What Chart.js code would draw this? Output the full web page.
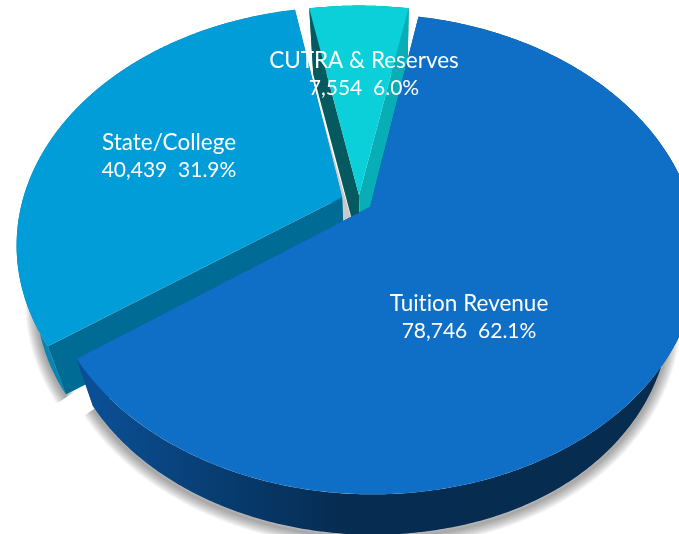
<!DOCTYPE html>
<html><head><meta charset="utf-8">
<style>html,body{margin:0;padding:0;background:#fff;overflow:hidden}canvas{display:block}</style>
<script src="https://cdn.jsdelivr.net/npm/chart.js@4"></script>
</head><body>
<canvas id="c" width="679" height="534"></canvas>
<script>
const categories = ["State/College", "CUTRA & Reserves", "Tuition Revenue"];
const values = [40439, 7554, 78746];
const percents = [31.9, 6.0, 62.1];
const faceColors = ["#009dd9", "#0bd0d9", "#0f6fc6"];
const startWallColors = ["#006c96", "#08aeb5", "#0a4f96"];
const endWallColors = ["#006c96", "#055a60", "#0a4f96"];
const explode = [0.057, 0.03, 0.041];
const labelSpots = [[169, 143], [364, 61], [469, 304]];

// projection of the flat pie to a tilted disc
const view = {sx: 359, sy: 202, a: 320, b: 229, k: 0.195, vx: 385, vy: 1250, depth: 0.0535, squeeze: 1.8e-4};

function project(u, v, t) {
  const w = 1 - view.k * v;
  let X = view.sx + view.a * u / w, Y = view.sy + view.b * v / w;
  const over = Math.max(0, X - 450);
  X += ((view.vx - X) * view.depth - view.squeeze * over * over) * t;
  Y += (view.vy - Y) * view.depth * t;
  return [X, Y];
}

const tiltedPie = {
  id: 'tiltedPie',
  beforeDatasetsDraw(chart) {
    const ctx = chart.ctx;
    const arcs = chart.getDatasetMeta(0).data;
    const ox = arcs[0].x, oy = arcs[0].y, R = arcs[0].outerRadius;
    const oLine = ctx.lineTo.bind(ctx), oMove = ctx.moveTo.bind(ctx);

    const rimPoint = (el, i, ang, t) => {
      const h = (el.startAngle + el.endAngle) / 2;
      return project(explode[i] * Math.cos(h) + Math.cos(ang), explode[i] * Math.sin(h) + Math.sin(ang), t);
    };
    const apexPoint = (el, i, t) => {
      const h = (el.startAngle + el.endAngle) / 2;
      return project(explode[i] * Math.cos(h), explode[i] * Math.sin(h), t);
    };
    const trace = (pts) => {
      ctx.beginPath();
      pts.forEach((p, n) => n ? ctx.lineTo(p[0], p[1]) : ctx.moveTo(p[0], p[1]));
      ctx.closePath();
    };
    const poly = (pts, fill) => {
      trace(pts);
      ctx.fillStyle = fill;
      ctx.fill();
    };
    const rimPoly = (el, i) => {
      const top = [], bottom = [];
      const n = Math.ceil((el.endAngle - el.startAngle) / 0.01);
      for (let j = 0; j <= n; j++) {
        const ang = el.startAngle + (el.endAngle - el.startAngle) * j / n;
        top.push(rimPoint(el, i, ang, 0));
        bottom.unshift(rimPoint(el, i, ang, 1));
      }
      return top.concat(bottom);
    };
    const cutPoly = (el, i, ang) => [apexPoint(el, i, 0), rimPoint(el, i, ang, 0), rimPoint(el, i, ang, 1), apexPoint(el, i, 1)];

    const rimFill = (i) => {
      const g = ctx.createLinearGradient(0, 0, chart.width, 0);
      if (i === 2) {
        g.addColorStop(0.12, '#0b5198'); g.addColorStop(0.3, '#083f75');
        g.addColorStop(0.5, '#062c52'); g.addColorStop(1, '#062c4e');
      } else if (i === 0) {
        g.addColorStop(0, '#0a86b2'); g.addColorStop(1, '#0a7aa4');
      } else {
        g.addColorStop(0, '#08808a'); g.addColorStop(1, '#08808a');
      }
      return g;
    };

    // soft shadow under the lower edge of the solid, built from widening translucent strokes
    ctx.save();
    ctx.translate(0, 3);
    ctx.lineJoin = 'round';
    for (let w = 22; w >= 2; w -= 2) {
      ctx.lineWidth = w;
      ctx.strokeStyle = 'rgba(0,0,0,0.04)';
      arcs.forEach((el, i) => {
        if (i === 1) return;
        const lower = [];
        const n = Math.ceil((el.endAngle - el.startAngle) / 0.01);
        for (let j = 0; j <= n; j++) {
          const ang = el.startAngle + (el.endAngle - el.startAngle) * j / n;
          if (Math.sin(ang) > 0.2) lower.push(rimPoint(el, i, ang, 1));
        }
        ctx.beginPath();
        lower.forEach((p, m) => m ? ctx.lineTo(p[0], p[1]) : ctx.moveTo(p[0], p[1]));
        ctx.stroke();
      });
    }
    ctx.restore();

    // the shaded sliver in the gap between the two upper slices
    const a0 = apexPoint(arcs[0], 0, 0), r0 = rimPoint(arcs[0], 0, arcs[0].endAngle, 0);
    poly([apexPoint(arcs[0], 0, 1), a0, [a0[0] + (r0[0] - a0[0]) * 0.5, a0[1] + (r0[1] - a0[1]) * 0.5], apexPoint(arcs[1], 1, 1)], '#c9c9c9');

    arcs.forEach((el, i) => {
      // walls
      poly(rimPoly(el, i), rimFill(i));
      poly(cutPoly(el, i, el.startAngle), i === 1 ? endWallColors[i] : startWallColors[i]);
      poly(cutPoly(el, i, el.endAngle), i === 1 ? startWallColors[i] : endWallColors[i]);

      // the top face: the library's own arc, drawn through the projection
      const mapped = (x, y) => {
        const m = ctx.getTransform();
        const dx = m.a * x + m.c * y + m.e, dy = m.b * x + m.d * y + m.f;
        return [project((dx - ox) / R, (dy - oy) / R, 0), m];
      };
      const draw = (orig) => (x, y) => {
        const [p, m] = mapped(x, y);
        ctx.setTransform(1, 0, 0, 1, 0, 0);
        orig(p[0], p[1]);
        ctx.setTransform(m);
      };
      ctx.lineTo = draw(oLine);
      ctx.moveTo = draw(oMove);
      ctx.arc = (x, y, r, a0, a1, ccw) => {
        let d = a1 - a0;
        if (!ccw && d < 0) d += Math.PI * 2;
        if (ccw && d > 0) d -= Math.PI * 2;
        const n = Math.max(1, Math.ceil(Math.abs(d) / 0.01));
        for (let j = 0; j <= n; j++) {
          const ang = a0 + d * j / n;
          ctx.lineTo(x + r * Math.cos(ang), y + r * Math.sin(ang));
        }
      };
      ctx.save();
      const h = (el.startAngle + el.endAngle) / 2;
      ctx.translate(explode[i] * R * Math.cos(h), explode[i] * R * Math.sin(h));
      el.draw(ctx);
      ctx.restore();
      delete ctx.lineTo; delete ctx.moveTo; delete ctx.arc;
    });
    return false;
  },
  afterDraw(chart) {
    const ctx = chart.ctx;
    ctx.save();
    ctx.fillStyle = '#ffffff';
    ctx.textAlign = 'center';
    ctx.textBaseline = 'middle';
    ctx.textRendering = 'optimizeSpeed';
    categories.forEach((name, i) => {
      const [x, y] = labelSpots[i];
      ctx.font = '22.5px Lato';
      ctx.fillText(name, x, y);
      ctx.font = '21px Lato';
      ctx.fillText(values[i].toLocaleString('en-US') + '  ' + percents[i].toFixed(1) + '%', x, y + 27);
    });
    ctx.restore();
  }
};

new Chart(document.getElementById('c'), {
  type: 'pie',
  data: {
    labels: categories,
    datasets: [{data: values, backgroundColor: faceColors, borderWidth: 0}]
  },
  options: {
    responsive: false,
    animation: false,
    rotation: 234.4,
    layout: {padding: 0},
    plugins: {legend: {display: false}, tooltip: {enabled: false}}
  },
  plugins: [tiltedPie]
});
</script>
</body></html>
